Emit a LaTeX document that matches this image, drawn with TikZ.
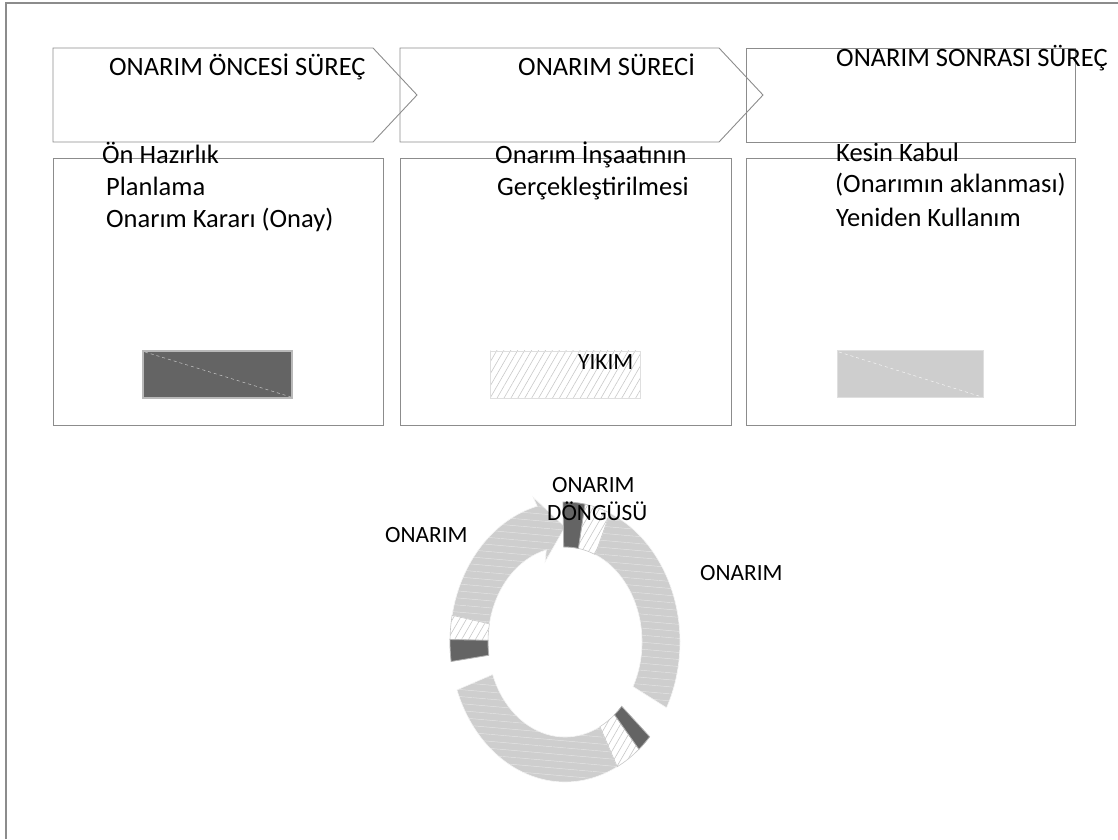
\documentclass[tikz,border=0pt]{standalone}
\usepackage{fontspec}
\setmainfont{Carlito}
\usetikzlibrary{patterns.meta}
\definecolor{linegray}{HTML}{8C8C8C}
\definecolor{darkseg}{HTML}{646464}
\definecolor{lightseg}{HTML}{CECECE}
\definecolor{hatchgray}{HTML}{C8C8C8}
\newcommand{\ringsector}[2]{(#1:115 and 140) arc[start angle=#1,end angle=#2,x radius=115,y radius=140] -- (#2:77 and 95) arc[start angle=#2,end angle=#1,x radius=77,y radius=95] -- cycle}
\begin{document}
\begin{tikzpicture}[x=1pt,y=1pt,
  frameline/.style={draw=linegray, line width=1.2pt},
  stagebox/.style={draw=linegray, line width=0.9pt},
  txt/.style={anchor=base west, inner sep=0pt, font=\fontsize{26.5}{32}\selectfont},
  smalltxt/.style={anchor=base west, inner sep=0pt, font=\fontsize{23.3}{28}\selectfont},
  darkbar/.style={fill=darkseg, draw=gray!55, line width=1.2pt},
  lightbar/.style={fill=lightseg, draw=gray!25, line width=1pt},
  hatchbar/.style={pattern={Lines[angle=60,distance=6pt,line width=0.6pt]}, pattern color=hatchgray, draw=gray!25, line width=0.8pt},
  lightarc/.style={preaction={fill=lightseg}, pattern={Lines[angle=175,distance=7pt,line width=0.5pt]}, pattern color=white!45!lightseg, draw=white!80!lightseg, line width=0.6pt},
  hatcharc/.style={fill=white, postaction={pattern={Lines[angle=60,distance=6pt,line width=0.6pt]}, pattern color=hatchgray}, draw=hatchgray, line width=0.6pt},
  darkarc/.style={fill=darkseg, draw=gray!60, line width=0.8pt}
]
\useasboundingbox (0,0) rectangle (1118,839);
% outer frame (top and left edges visible)
\coordinate (fTL) at (6,836);
\coordinate (fTR) at (1118,836);
\coordinate (fBL) at (6,0);
\draw[frameline] (fBL) -- (fTL) -- (fTR);

% chevrons
\draw[stagebox] (53,791) -- (373,791) -- (417,744) -- (373,697) -- (53,697) -- cycle;
\draw[stagebox] (400,791) -- (719,791) -- (763,744) -- (719,697) -- (400,697) -- cycle;
\draw[stagebox] (746,697) rectangle (1075,791);
\node[txt] (t1) at (109,763) {ONARIM ÖNCESİ SÜREÇ};
\node[txt] (t2) at (518,763) {ONARIM SÜRECİ};
\node[txt] (t3) at (836,772) {ONARIM SONRASI SÜREÇ};

% lower boxes
\draw[stagebox] (53,414) rectangle (383,681);
\draw[stagebox] (400,414) rectangle (731,681);
\draw[stagebox] (746,414) rectangle (1075,681);

\node[txt] (b1a) at (102,675) {Ön Hazırlık};
\node[txt] (b1b) at (106,643) {Planlama};
\node[txt] (b1c) at (106,611) {Onarım Kararı (Onay)};
\node[txt] (b2a) at (495,675) {Onarım İnşaatının};
\node[txt] (b2b) at (497,643) {Gerçekleştirilmesi};
\node[txt] (b3a) at (836,677) {Kesin Kabul};
\node[txt] (b3b) at (835,646) {(Onarımın aklanması)};
\node[txt] (b3c) at (836,612) {Yeniden Kullanım};

% small bars
\draw[darkbar] (143,441) rectangle (292,488);
\draw[gray!45, dashed, line width=0.5pt] (145,487) -- (291,442);
\path[hatchbar] (490,441) rectangle (640,488);
\node[smalltxt] (yk) at (578,469) {YIKIM};
\draw[lightbar] (837,441) rectangle (983,488);
\draw[white!80!lightseg, dashed, line width=0.5pt] (839,487) -- (982,442);

% ring
\begin{scope}[shift={(565,197)}]
  % left arc with arrow head
  \path[lightarc] (169:115 and 140) arc[start angle=169,end angle=104,x radius=115,y radius=140]
     -- (-32,145) -- (0,115) -- (-20,80) -- (104:77 and 95)
     arc[start angle=104,end angle=169,x radius=77,y radius=95] -- cycle;
  \path[lightarc] \ringsector{67}{-28};
  \path[lightarc] \ringsector{-63}{-160};
  \path[hatcharc] \ringsector{67}{80};
  \path[hatcharc] \ringsector{-50}{-63};
  \path[hatcharc] \ringsector{169}{179};
  \path[darkarc] \ringsector{80}{91};
  \path[darkarc] \ringsector{-42.6}{-50};
  \path[darkarc] \ringsector{179}{188};
\end{scope}

\node[smalltxt] (r1) at (385,297) {ONARIM};
\node[smalltxt] (r2) at (552,347) {ONARIM};
\node[smalltxt] (r3) at (547,319) {DÖNGÜSÜ};
\node[smalltxt] (r4) at (700,259) {ONARIM};
\end{tikzpicture}
\end{document}
